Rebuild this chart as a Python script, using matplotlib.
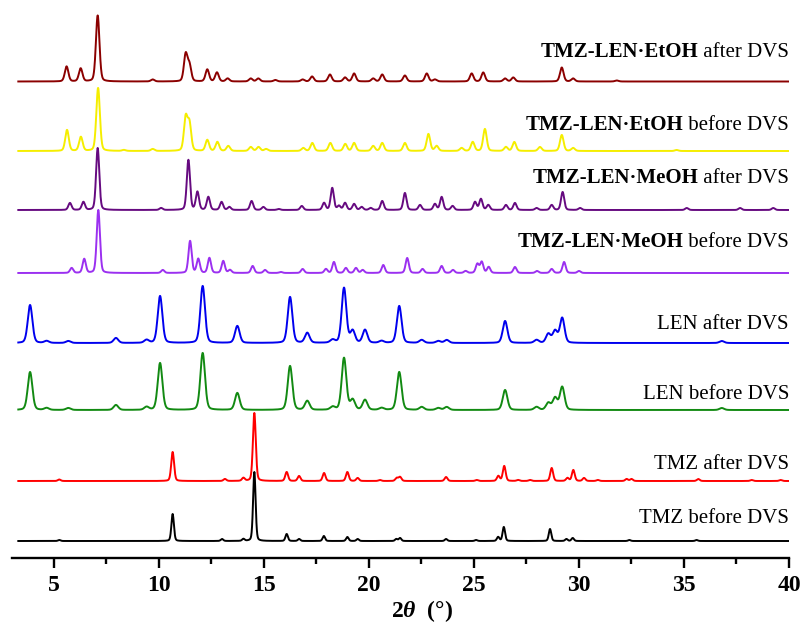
import numpy as np
import matplotlib
matplotlib.use('Agg')
import matplotlib.pyplot as plt

plt.rcParams['font.family'] = ['Liberation Serif', 'DejaVu Serif']
plt.rcParams['mathtext.fontset'] = 'custom'
plt.rcParams['mathtext.rm'] = 'Liberation Serif:bold'
plt.rcParams['mathtext.it'] = 'Liberation Serif:italic:bold'

# Peak lists: 2theta positions and heights (arb. units)
etoh_after_pos = [5.6, 6.27, 7.08, 9.7, 11.27, 11.45, 12.3, 12.76, 13.27, 14.37, 14.73, 15.54,
                  16.84, 17.29, 18.14, 18.86, 19.29, 20.2, 20.63, 21.71, 22.75, 23.14, 24.89,
                  25.44, 26.48, 26.87, 29.18, 29.72, 31.8]
etoh_after_h = [15, 13, 66, 2, 27, 16, 12, 9, 3, 3, 3, 1.5, 2, 5, 7, 4, 8, 3, 7, 6, 8, 2, 8, 9,
                3, 4, 14, 3, 1]

etoh_before_pos = [5.62, 6.28, 7.1, 8.33, 9.7, 11.27, 11.45, 12.3, 12.78, 13.3, 14.37, 14.74,
                   15.1, 16.87, 17.3, 18.16, 18.87, 19.29, 20.2, 20.63, 21.71, 22.83, 23.22,
                   24.41, 24.94, 25.52, 26.52, 26.92, 28.14, 29.18, 29.72, 34.65]
etoh_before_h = [21, 14, 63, 1, 2, 33, 27, 11, 9, 5, 4, 4, 2, 3, 8, 8, 7, 8, 5, 8, 8, 17, 5, 3,
                 9, 22, 4, 9, 4, 16, 3, 1]

meoh_after_pos = [5.76, 6.4, 7.08, 10.1, 11.4, 11.83, 12.35, 12.98, 13.35, 14.41, 14.97, 15.7,
                  16.8, 17.86, 18.25, 18.57, 18.86, 19.29, 19.65, 20.08, 20.63, 21.71, 22.43,
                  23.14, 23.46, 23.98, 25.05, 25.33, 25.68, 26.52, 26.95, 27.98, 28.7, 29.22,
                  30.05, 35.13, 37.67, 39.25]
meoh_after_h = [7, 8, 62, 2, 50, 18, 13, 8, 3, 9, 3, 1, 4, 7, 22, 4, 7, 6, 3, 2, 9, 17, 5, 6,
                13, 4, 8, 11, 5, 5, 7, 2, 5, 18, 2, 2, 2, 2]

meoh_before_pos = [5.84, 6.44, 7.11, 10.18, 11.48, 11.87, 12.4, 13.06, 13.38, 14.46, 15.05, 15.8,
                   16.84, 17.95, 18.33, 18.9, 19.38, 19.7, 20.68, 21.82, 22.55, 23.46, 24.0,
                   24.6, 25.16, 25.37, 25.7, 26.95, 28.0, 28.7, 29.29, 30.0]
meoh_before_h = [5, 14, 63, 3, 32, 14, 15, 12, 3, 7, 3, 1, 4, 4, 11, 5, 5, 3, 8, 15, 4, 7, 3, 2,
                 9, 11, 6, 6, 2, 4, 11, 2]

len_after_pos = [3.86, 4.65, 5.68, 7.95, 9.41, 10.05, 12.08, 13.73, 16.24, 17.06, 18.27, 18.81,
                 19.22, 19.81, 20.6, 21.44, 22.51, 23.3, 23.7, 26.48, 27.98, 28.54, 28.86, 29.2,
                 36.8]
len_after_h = [38, 2, 2, 5, 3, 47, 57, 17, 46, 10, 3, 55, 12, 13, 2, 37, 3, 2, 3, 22, 3, 9, 12,
               25, 2]

len_before_pos = [3.86, 4.65, 5.68, 7.95, 9.41, 10.05, 12.08, 13.73, 16.24, 17.06, 18.27, 18.81,
                  19.22, 19.81, 20.6, 21.44, 22.51, 23.3, 23.7, 26.48, 27.98, 28.54, 28.86, 29.2,
                  36.8]
len_before_h = [38, 2, 2, 5, 3, 47, 57, 17, 44, 9, 3, 52, 10, 10, 2, 38, 3, 2, 3, 20, 3, 7, 12,
                23, 2]

tmz_after_pos = [5.25, 10.65, 13.14, 14.02, 14.54, 16.08, 16.67, 17.86, 18.97, 19.46, 20.52,
                 21.32, 21.48, 23.67, 25.13, 26.16, 26.44, 27.1, 27.67, 28.7, 29.45, 29.73,
                 30.24, 30.9, 32.27, 32.5, 35.68, 38.22, 39.6]
tmz_after_h = [1.5, 29, 2, 3, 68, 9, 5, 8, 9, 3, 1, 3, 4, 4, 1, 5, 15, 1, 1, 13, 3, 11, 3, 1, 2,
               2, 2, 1, 1]

tmz_before_pos = [5.25, 10.65, 13.0, 14.02, 14.54, 16.08, 16.67, 17.85, 18.97, 19.46, 21.3, 21.48,
                  23.67, 25.1, 26.15, 26.42, 28.62, 29.4, 29.7, 32.4, 35.6]
tmz_before_h = [1, 27, 2, 2, 69, 7, 2, 5, 4, 2, 2, 3, 2, 1, 4, 14, 12, 2, 3, 1, 1]

labels_bold = ['TMZ-LEN\u00b7EtOH', 'TMZ-LEN\u00b7EtOH', 'TMZ-LEN\u00b7MeOH', 'TMZ-LEN\u00b7MeOH',
               '', '', '', '']
labels_plain = [' after DVS', ' before DVS', ' after DVS', ' before DVS',
                'LEN after DVS', 'LEN before DVS', 'TMZ after DVS', 'TMZ before DVS']

series = [(etoh_after_pos, etoh_after_h), (etoh_before_pos, etoh_before_h),
          (meoh_after_pos, meoh_after_h), (meoh_before_pos, meoh_before_h),
          (len_after_pos, len_after_h), (len_before_pos, len_before_h),
          (tmz_after_pos, tmz_after_h), (tmz_before_pos, tmz_before_h)]

colors = ['#8b0000', '#f5ee00', '#660a80', '#9b30f0', '#0000ee', '#128a12', '#ff0000', '#000000']
offsets = [476.5, 407, 348, 285, 215, 148, 77, 17]
label_y = [501, 428, 375, 311, 229, 159, 89, 35]
widths = [0.2, 0.2, 0.18, 0.18, 0.26, 0.26, 0.16, 0.14]


def profile(x, pos, h, fwhm):
    """Sum of pseudo-Voigt peaks."""
    y = np.zeros_like(x)
    s = fwhm / 2.3548
    g = fwhm / 2
    for p, a in zip(pos, h):
        gauss = np.exp(-0.5 * ((x - p) / s) ** 2)
        lor = g ** 2 / ((x - p) ** 2 + g ** 2)
        y += a * (0.75 * gauss + 0.25 * lor)
    return y


fig = plt.figure(figsize=(8.04, 6.23), dpi=100)
ax = fig.add_axes([12 / 804, 1 - 558 / 623, 777 / 804, 553 / 623])

x = np.arange(3.3, 40.0, 0.01)
for (pos, h), c, off, w in zip(series, colors, offsets, widths):
    ax.plot(x, off + profile(x, pos, h, w), color=c, lw=1.4)

fig.canvas.draw()
for bold, plain, ly in zip(labels_bold, labels_plain, label_y):
    t = ax.text(40.0, ly, plain, ha='right', va='baseline', fontsize=15)
    if bold:
        ax.annotate(bold, xy=(0, 0), xycoords=t, ha='right', va='bottom',
                    fontsize=15, fontweight='bold')

ax.set_xlim(3, 40)
ax.set_ylim(0, 553)
for s in ['left', 'right', 'top']:
    ax.spines[s].set_visible(False)
ax.spines['bottom'].set_linewidth(1.7)
ax.set_yticks([])
ax.set_xticks([5, 10, 15, 20, 25, 30, 35, 40])
ax.set_xticks(np.arange(7.5, 40, 5), minor=True)
ax.tick_params(axis='x', which='major', direction='out', length=7.5, width=1.7, labelsize=17, pad=5)
ax.tick_params(axis='x', which='minor', direction='out', length=4, width=1.7)
for lab in ax.get_xticklabels():
    lab.set_fontweight('bold')
ax.set_xlabel(r'2$\mathit{\theta}$  (°)', fontsize=17, fontweight='bold')
ax.xaxis.set_label_coords(0.528, -0.072)
ax.patch.set_alpha(0)

fig.savefig('out.png', dpi=100)
